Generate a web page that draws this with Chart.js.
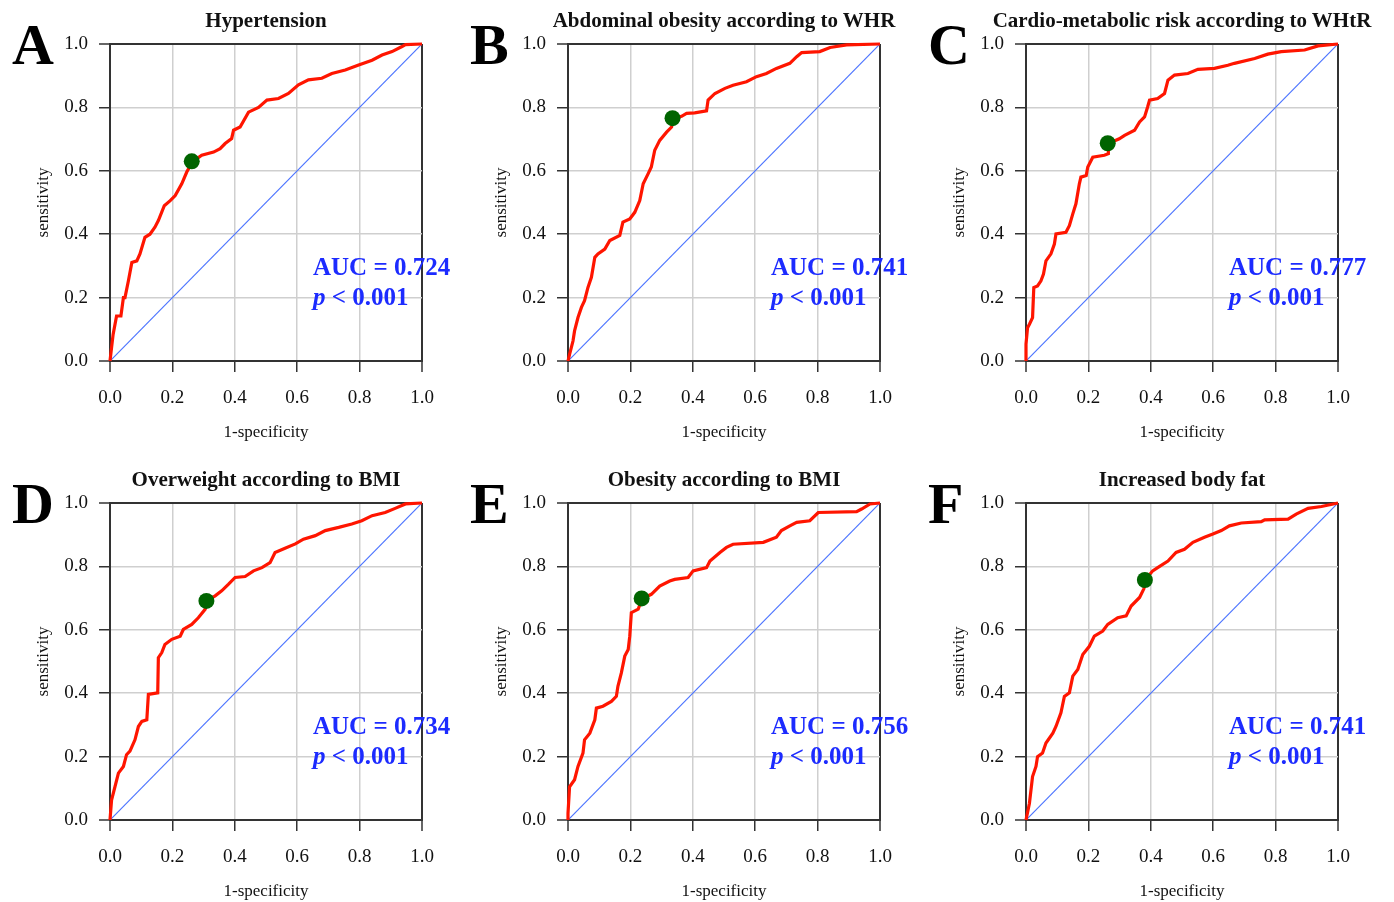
<!DOCTYPE html>
<html>
<head>
<meta charset="utf-8">
<script src="https://cdn.jsdelivr.net/npm/chart.js@4.4.1/dist/chart.umd.min.js"></script>
<style>
body { margin: 0; background: #fff; width: 1394px; height: 902px; overflow: hidden; position: relative;
       font-family: 'Liberation Serif', 'Times New Roman', serif; }
.panel { position: absolute; width: 460px; height: 443px; }
.lbl { position: absolute; white-space: nowrap; line-height: 1; font-weight: bold; }
</style>
</head>
<body>
<script>
// Panel texts
const letters = ['A', 'B', 'C', 'D', 'E', 'F'];
const titles = ['Hypertension', 'Abdominal obesity according to WHR', 'Cardio-metabolic risk according to WHtR',
                'Overweight according to BMI', 'Obesity according to BMI', 'Increased body fat'];
const aucValues = ['0.724', '0.741', '0.777', '0.734', '0.756', '0.741'];
const tickValues = [0, 0.2, 0.4, 0.6, 0.8, 1.0];

// ROC curves (1-specificity, sensitivity)
const fprA = [0, .005, .01, .021, .035, .043, .048, .059, .07, .086, .096, .112, .128, .144, .155, .174, .193, .209, .23, .246, .264, .294, .332, .353, .369, .39, .396, .417, .444, .476, .503, .54, .572, .604, .636, .679, .711, .754, .797, .84, .872, .904, .936, .947, 1];
const tprA = [0, .042, .084, .142, .142, .2, .2, .253, .311, .316, .338, .39, .4, .422, .443, .49, .506, .522, .559, .596, .628, .649, .659, .67, .686, .702, .728, .738, .785, .8, .823, .828, .844, .871, .887, .892, .907, .918, .934, .949, .965, .976, .992, .998, 1];

const fprB = [0, .005, .016, .021, .032, .043, .053, .064, .075, .086, .096, .118, .134, .166, .176, .198, .214, .23, .241, .257, .267, .278, .294, .316, .332, .337, .364, .38, .406, .444, .449, .471, .503, .529, .572, .604, .636, .668, .711, .733, .749, .807, .84, .893, 1];
const tprB = [0, .021, .063, .095, .137, .169, .19, .232, .264, .327, .338, .353, .38, .396, .438, .448, .469, .506, .559, .591, .612, .665, .696, .722, .738, .765, .772, .781, .783, .789, .823, .844, .86, .87, .881, .897, .907, .923, .939, .96, .973, .976, .989, .997, 1];

const fprC = [0, 0, .005, .011, .021, .025, .037, .048, .056, .064, .08, .091, .096, .128, .139, .15, .16, .171, .176, .193, .198, .214, .251, .264, .264, .299, .316, .348, .364, .38, .39, .396, .422, .444, .455, .476, .519, .551, .604, .647, .668, .733, .775, .818, .893, .936, 1];
const tprC = [0, .053, .105, .116, .137, .232, .237, .253, .274, .316, .338, .369, .401, .406, .427, .464, .496, .559, .58, .585, .612, .643, .649, .654, .686, .701, .712, .728, .754, .77, .802, .823, .828, .844, .886, .902, .907, .92, .923, .933, .939, .954, .968, .976, .981, .994, 1];

const fprD = [0, .005, .016, .027, .043, .053, .064, .08, .091, .102, .118, .123, .153, .155, .166, .176, .198, .225, .235, .262, .283, .305, .31, .337, .358, .38, .401, .433, .46, .487, .513, .529, .561, .594, .62, .658, .69, .733, .775, .807, .84, .882, .914, .947, 1];
const tprD = [0, .063, .105, .148, .169, .206, .217, .253, .295, .311, .316, .396, .401, .512, .528, .554, .57, .58, .601, .617, .638, .665, .691, .707, .723, .744, .765, .768, .786, .796, .812, .844, .857, .871, .886, .897, .913, .923, .934, .944, .96, .97, .983, .997, 1];

const fprE = [0, 0, .005, .021, .032, .048, .053, .07, .086, .091, .112, .139, .155, .16, .171, .182, .193, .198, .203, .225, .237, .267, .294, .326, .342, .385, .401, .444, .455, .487, .508, .529, .626, .668, .684, .711, .733, .775, .802, .925, .941, .968, 1];
const tprE = [0, .021, .105, .127, .169, .211, .253, .274, .316, .353, .359, .374, .39, .422, .464, .517, .538, .58, .654, .665, .698, .712, .738, .754, .759, .765, .786, .796, .817, .844, .86, .87, .876, .892, .913, .928, .939, .944, .97, .973, .981, .997, 1];

const fprF = [0, .011, .021, .032, .037, .053, .064, .086, .096, .112, .123, .139, .15, .166, .182, .203, .219, .246, .262, .294, .321, .337, .364, .378, .382, .406, .422, .455, .481, .508, .535, .572, .599, .626, .652, .69, .754, .765, .84, .866, .904, .947, 1];
const tprF = [0, .053, .137, .169, .2, .211, .243, .274, .295, .338, .39, .401, .454, .475, .522, .548, .58, .596, .617, .638, .644, .675, .702, .73, .757, .786, .796, .817, .844, .854, .876, .892, .902, .913, .928, .937, .941, .947, .949, .965, .983, .989, 1];

// optimal cut-off points (green dots)
const cutFpr = [.262, .335, .262, .309, .236, .381];
const cutTpr = [.63, .766, .687, .691, .699, .757];

const curves = [[fprA, tprA], [fprB, tprB], [fprC, tprC], [fprD, tprD], [fprE, tprE], [fprF, tprF]];

// plot area corners on the page
const plotLeft = [110, 568, 1026];
const plotTop = [44, 503];
const plotW = 312;

Chart.defaults.font.family = "'Liberation Serif', 'Times New Roman', serif";
Chart.defaults.color = '#111';

function addText(html, left, baseline, size, extra) {
    const d = document.createElement('div');
    d.className = 'lbl';
    d.innerHTML = html;
    d.style.fontSize = size + 'px';
    d.style.left = left + 'px';
    d.style.top = (baseline - 0.8375 * size) + 'px';
    Object.assign(d.style, extra || {});
    document.body.appendChild(d);
    return d;
}

function gridColor(ctx) {
    const v = ctx.tick ? ctx.tick.value : 0;
    return (v > 0.99 || v < 0.01) ? '#333' : '#cfcfcf';
}
function gridWidth(ctx) {
    const v = ctx.tick ? ctx.tick.value : 0;
    return (v > 0.99 || v < 0.01) ? 2 : 1.5;
}

function axis(titleText, isX) {
    return {
        type: 'linear',
        min: 0,
        max: 1,
        afterBuildTicks: s => { s.ticks = tickValues.map(v => ({ value: v })); },
        afterFit: s => { if (isX) s.height = 82; else s.width = 110; },
        ticks: {
            callback: v => v.toFixed(1),
            padding: isX ? 15 : 11,
            font: { size: 19 },
            color: '#111',
            maxRotation: 0,
            autoSkip: false
        },
        grid: {
            color: gridColor,
            lineWidth: gridWidth,
            tickLength: 11,
            tickColor: '#333',
            tickWidth: 1.5
        },
        border: { color: '#333', width: 2 },
        title: {
            display: true,
            text: titleText,
            font: { size: 17 },
            color: '#111',
            padding: isX ? { top: 0, bottom: 0 } : { top: 33, bottom: 0 }
        }
    };
}

for (let i = 0; i < 6; i++) {
    const col = i % 3, row = Math.floor(i / 3);
    const px = plotLeft[col], py = plotTop[row];

    const wrap = document.createElement('div');
    wrap.className = 'panel';
    wrap.style.left = (px - 110) + 'px';
    wrap.style.top = (py - 44) + 'px';
    const canvas = document.createElement('canvas');
    canvas.width = 460;
    canvas.height = 443;
    wrap.appendChild(canvas);
    document.body.appendChild(wrap);

    const [fpr, tpr] = curves[i];
    const rocPoints = fpr.map((x, k) => ({ x: x, y: tpr[k] }));

    new Chart(canvas, {
        type: 'line',
        data: {
            datasets: [
                {
                    data: [{ x: cutFpr[i], y: cutTpr[i] }],
                    showLine: false,
                    pointRadius: 8,
                    pointBackgroundColor: '#006400',
                    pointBorderWidth: 0,
                    order: 1
                },
                {
                    data: rocPoints,
                    borderColor: '#ff1500',
                    borderWidth: 3.2,
                    pointRadius: 0,
                    tension: 0,
                    clip: false,
                    order: 2
                },
                {
                    data: [{ x: 0, y: 0 }, { x: 1, y: 1 }],
                    borderColor: '#4c74ff',
                    borderWidth: 1.2,
                    pointRadius: 0,
                    order: 3
                }
            ]
        },
        options: {
            responsive: false,
            animation: false,
            events: [],
            layout: { padding: { top: 44, right: 38, left: 0, bottom: 0 } },
            plugins: { legend: { display: false }, tooltip: { enabled: false } },
            scales: {
                x: axis('1-specificity', true),
                y: axis('sensitivity', false)
            }
        }
    });

    // panel letter, title and AUC annotation
    addText(letters[i], px - 98, py + 21, 58, { color: '#000' });
    addText(titles[i], px + plotW / 2 - 250, py - 16, 21, { width: '500px', textAlign: 'center', color: '#111' });
    addText('AUC = ' + aucValues[i], px + 203, py + 231, 25, { color: '#1c2bff' });
    addText('<i>p</i> &lt; 0.001', px + 203, py + 261, 25, { color: '#1c2bff' });
}
</script>
</body>
</html>
